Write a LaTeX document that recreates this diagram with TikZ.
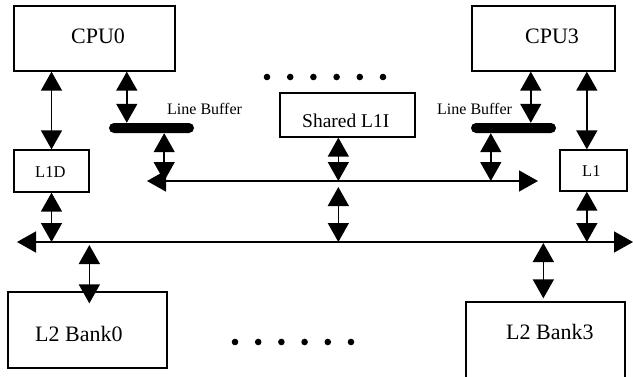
\documentclass[tikz,border=0pt]{standalone}
\usepackage{fontspec}
\setmainfont{Liberation Serif}
\usetikzlibrary{arrows.meta}

\tikzset{
  >={Triangle[length=19pt,width=21pt]},
  box/.style={draw, line width=1.3pt, inner sep=0pt},
  buffer/.style={fill=black, rounded corners=5pt, minimum width=85pt, minimum height=10pt, inner sep=0pt},
  dbl/.style={line width=1.5pt, <->},
  txt/.style={anchor=base west, inner sep=0pt},
}
\newcommand{\fs}[1]{\fontsize{#1}{#1}\selectfont}

\begin{document}
\begin{tikzpicture}[x=1pt,y=-1pt]
        \useasboundingbox (0,0) rectangle (633,376);
        % boxes
        \node[box, minimum width=161pt, minimum height=65pt] (cpu0) at (94.5,38.5) {};
        \node[box, minimum width=143pt, minimum height=65pt] (cpu3) at (543.5,38.5) {};
        \node[box, minimum width=75pt, minimum height=42pt] (l1d) at (51.5,171) {};
        \node[box, minimum width=67pt, minimum height=41pt] (l1) at (593.5,170.5) {};
        \node[box, minimum width=135pt, minimum height=44pt] (sh) at (347.5,115) {};
        \node[box, minimum width=159pt, minimum height=76pt] (bank0) at (87.5,330) {};
        \node[box, minimum width=159pt, minimum height=76pt] (bank3) at (545.5,340) {};
        % line buffers
        \node[buffer] (lb0) at (151.5,128) {};
        \node[buffer] (lb3) at (513.5,128) {};
        % text
        \node[txt] (cpu0-t) at (71,43) {\fs{22}CPU0};
        \node[txt] (cpu3-t) at (525,43) {\fs{22}CPU3};
        \node[txt] (lb0-t) at (167,114) {\fs{16}Line Buffer};
        \node[txt] (lb3-t) at (437,114) {\fs{16}Line Buffer};
        \node[txt] (sh-t) at (302,127) {\fs{19.5}Shared L1I};
        \node[txt] (l1d-t) at (35,177) {\fs{16.5}L1D};
        \node[txt] (l1-t) at (582,176) {\fs{16.5}L1};
        \node[txt] (bank0-t) at (35,341) {\fs{22}L2 Bank0};
        \node[txt] (bank3-t) at (506,339) {\fs{22}L2 Bank3};
        % dots
        \foreach \i in {0,...,5} {
            \fill (267+23.2*\i,77) circle (3.3);
            \fill (235+23.2*\i,342) circle (3.3);
        }
        % buses
        \coordinate (ubW) at (147,181);
        \coordinate (ubE) at (538,181);
        \coordinate (lbW) at (17,242);
        \coordinate (lbE) at (633,242);
        \draw[dbl] (ubW) -- (ubE);
        \draw[dbl] (lbW) -- (lbE);
        % taps
        \path (lb0.north west) ++(18,0) coordinate (lb0in)
              (lb0.south east) ++(-30,0) coordinate (lb0out)
              (lb3.north west) ++(60,0) coordinate (lb3in)
              (lb3.south west) ++(20,0) coordinate (lb3out)
              (l1.north west) ++(27.5,0) coordinate (l1in)
              (sh.south west) ++(59,0) coordinate (shout)
              (bank0.north west) ++(82,0) coordinate (b0in)
              (bank3.north west) ++(78,0) coordinate (b3in);
        % arrows
        \draw[dbl] (cpu0.south -| l1d.north) -- (l1d.north);
        \draw[dbl] (cpu0.south -| lb0in) -- (lb0in);
        \draw[dbl] (lb0out) -- (lb0out |- ubW);
        \draw[dbl] (cpu3.south -| lb3in) -- (lb3in);
        \draw[dbl] (lb3out) -- (lb3out |- ubW);
        \draw[dbl] (cpu3.south -| l1in) -- (l1in);
        \draw[dbl] (shout) -- (shout |- ubW);
        \draw[dbl, shorten <=6pt] (shout |- ubW) -- (shout |- lbW);
        \draw[dbl] (l1d.south) -- (l1d.south |- lbW);
        \draw[dbl] (l1in |- l1.south) -- (l1in |- lbW);
        \draw[dbl, shorten <=3pt, shorten >=-12pt] (b0in |- lbW) -- (b0in);
        \draw[dbl, shorten <=1pt, shorten >=3pt] (b3in |- lbW) -- (b3in);
\end{tikzpicture}
\end{document}
